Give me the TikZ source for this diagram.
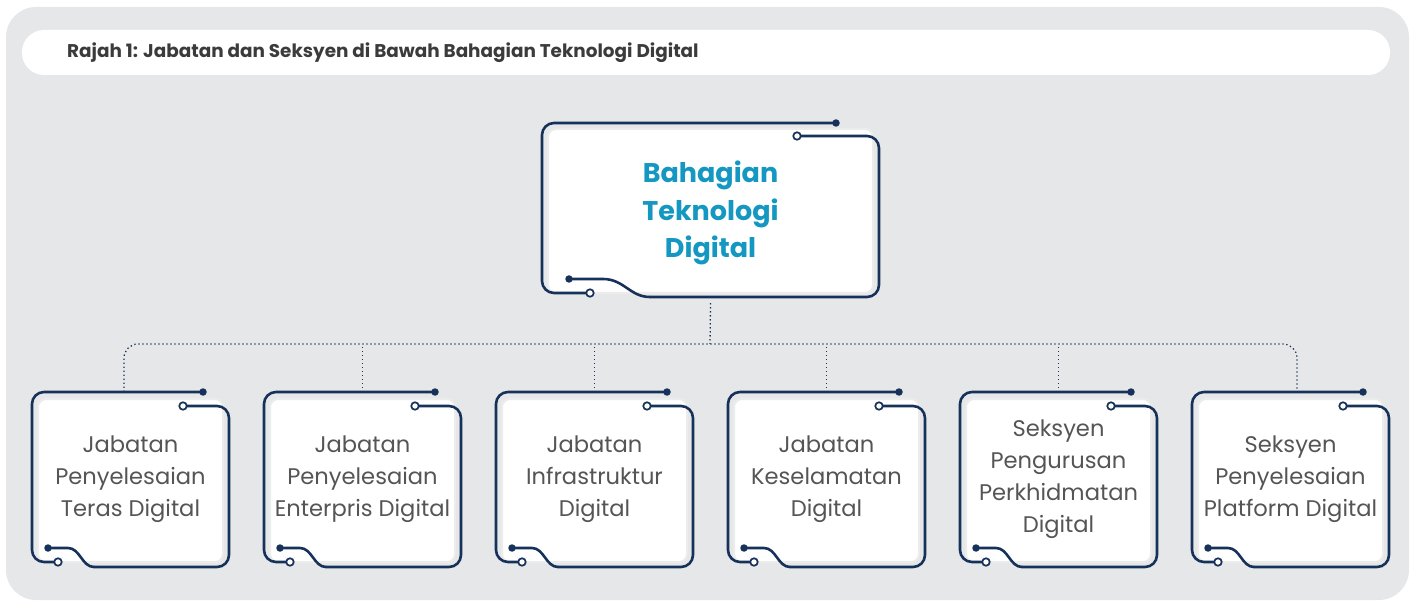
\documentclass[tikz,border=0pt]{standalone}
\usepackage{fontspec}
\setmainfont{Poppins}
\definecolor{bggray}{HTML}{E6E7E8}
\definecolor{navy}{HTML}{17325A}
\definecolor{cyantxt}{HTML}{1497C0}
\definecolor{txtgray}{HTML}{555555}
\definecolor{ttlgray}{HTML}{3B3B3B}
\definecolor{edgegray}{HTML}{ECECEC}
\tikzset{
  ln/.style={draw=navy, line width=2.6pt, rounded corners=12pt, line cap=round},
  lnc/.style={draw=navy, line width=2.6pt, line cap=round},
  dotend/.style={circle, fill=navy, inner sep=0pt, minimum size=7.5pt},
  ringend/.style={circle, draw=navy, fill=white, line width=1.7pt, inner sep=0pt, minimum size=7.5pt},
  whitecard/.style={fill=white, draw=edgegray, line width=2pt, rounded corners=8pt},
  boxtxt/.style={align=center, text=txtgray, font=\fontsize{22.6}{32}\selectfont, minimum width=197pt, minimum height=175pt, inner sep=0pt},
  dotln/.style={draw=navy, line width=1.3pt, dash pattern=on 1.3pt off 2.7pt}
}
\newcommand\circfrm[5]{%
  \fill[whitecard] ({#2+6},{#3+7}) rectangle ({#4-6},{#5-5});
  \draw[ln] ({#4-26},#3) -- (#2,#3) -- (#2,{#5-5}) -- ({#2+26},{#5-5});
  \draw[ln] ({#4-46},{#3+14}) -- (#4,{#3+14}) -- (#4,#5) -- ({#2+62},#5);
  \draw[lnc] ({#2+62},#5) .. controls ({#2+50},#5) and ({#2+48},{#5-19}) .. ({#2+36},{#5-19}) -- ({#2+16},{#5-19});
  \node[dotend] (#1-d1) at ({#4-26},#3) {};
  \node[ringend] (#1-r1) at ({#4-46},{#3+14}) {};
  \node[ringend] (#1-r2) at ({#2+26},{#5-5}) {};
  \node[dotend] (#1-d2) at ({#2+16},{#5-19}) {};
}
\begin{document}
\begin{tikzpicture}[x=1pt, y=-1pt]
\useasboundingbox (0,0) rectangle (1410,601);
\fill[bggray, rounded corners=30pt] (6,7) rectangle (1409,600);
\fill[white, rounded corners=22pt] (22,30) rectangle (1390,75);
\node[anchor=west, text=ttlgray, font=\fontsize{18.4}{22}\selectfont\bfseries, inner sep=0pt] (title) at (67,53) {Rajah 1: Jabatan dan Seksyen di Bawah Bahagian Teknologi Digital};

% top box
\fill[whitecard] (548,129) rectangle (873,293);
\draw[ln] (836,123) -- (542,123) -- (542,293) -- (590,293);
\draw[ln] (797,136) -- (879,136) -- (879,297) -- (650,297);
\draw[lnc] (650,297) .. controls (630,297) and (624,279) .. (603,279) -- (569,279);
\node[dotend] (top-d1) at (836,123) {};
\node[ringend] (top-r1) at (797,136) {};
\node[ringend] (top-r2) at (590,293) {};
\node[dotend] (top-d2) at (569,279) {};
\node[align=center, text=cyantxt, font=\fontsize{27}{37.5}\selectfont\bfseries, minimum width=337pt, minimum height=174pt, inner sep=0pt] (top) at (710.5,213) {Bahagian\\Teknologi\\Digital};

% small boxes
\circfrm{f1}{32}{392}{229}{567}
\circfrm{f2}{264}{392}{461}{567}
\circfrm{f3}{496}{392}{693}{567}
\circfrm{f4}{728}{392}{925}{567}
\circfrm{f5}{960}{392}{1157}{567}
\circfrm{f6}{1192}{392}{1389}{567}
\node[boxtxt] (b1) at (130.5,479.5) {Jabatan\\Penyelesaian\\Teras Digital};
\node[boxtxt] (b2) at (362.5,479.5) {Jabatan\\Penyelesaian\\Enterpris Digital};
\node[boxtxt] (b3) at (594.5,479.5) {Jabatan\\Infrastruktur\\Digital};
\node[boxtxt] (b4) at (826.5,479.5) {Jabatan\\Keselamatan\\Digital};
\node[boxtxt] (b5) at (1058.5,479.5) {Seksyen\\Pengurusan\\Perkhidmatan\\Digital};
\node[boxtxt] (b6) at (1290.5,479.5) {Seksyen\\Penyelesaian\\Platform Digital};

% connectors
\coordinate (bus) at (710,344);
\draw[dotln] ([yshift=-3pt]top.south) -- (bus);
\draw[dotln, rounded corners=14pt] ([xshift=-6.5pt]b1.north) |- (bus) -| ([xshift=6.5pt]b6.north);
\foreach \i in {2,...,5} \draw[dotln] (b\i.north) -- (b\i.north |- bus);
\end{tikzpicture}
\end{document}
